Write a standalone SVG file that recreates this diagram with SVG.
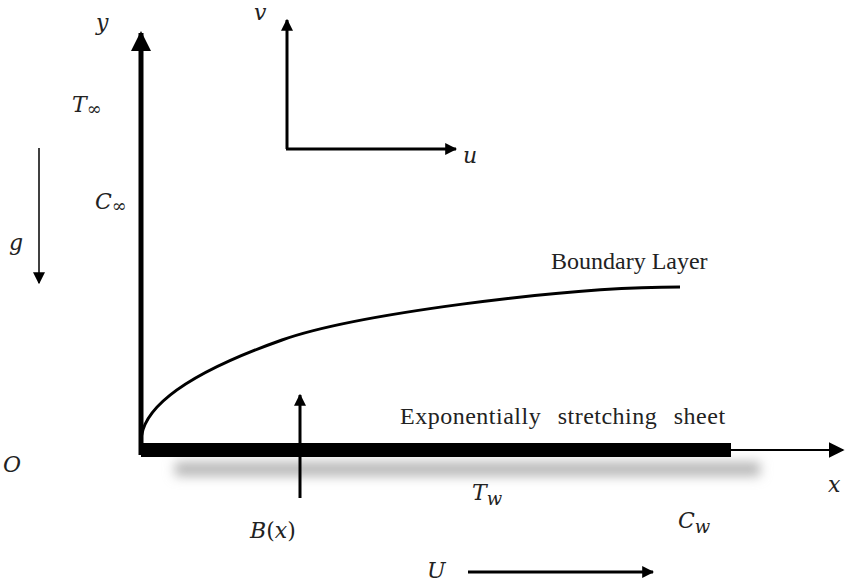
<svg xmlns="http://www.w3.org/2000/svg" width="845" height="583" viewBox="0 0 845 583">
<defs>
<marker id="ah" viewBox="0 0 10 10" refX="9" refY="5" markerWidth="4" markerHeight="4" orient="auto" markerUnits="strokeWidth"><path d="M0,0 L10,5 L0,10 z" fill="#000"/></marker>
<marker id="ahs" viewBox="0 0 10 10" refX="9" refY="5" markerWidth="8" markerHeight="8" orient="auto" markerUnits="strokeWidth"><path d="M0,0 L10,5 L0,10 z" fill="#000"/></marker>
<filter id="blur" x="-20%" y="-200%" width="140%" height="500%"><feGaussianBlur stdDeviation="6"/></filter>
</defs>
<style>
.m{font-family:"DejaVu Serif","Liberation Serif",serif;font-style:italic;font-size:22px;fill:#222}
.t{font-family:"Liberation Serif","Times New Roman",serif;font-size:24px;fill:#222}
.s{font-family:"DejaVu Serif",serif;font-size:18px;fill:#222}
.ax{stroke:#000;fill:none}
</style>
<g id="shadow"><rect x="175" y="462" width="585" height="14" fill="#b5b5b5" filter="url(#blur)"/></g>
<g id="connectors">
<line class="ax" x1="141" y1="455" x2="141" y2="33" stroke-width="5" marker-end="url(#ah)"/>
<line class="ax" x1="731" y1="450" x2="843" y2="450" stroke-width="2" marker-end="url(#ahs)"/>
<line class="ax" x1="39" y1="148" x2="39" y2="283" stroke-width="1.5" marker-end="url(#ahs)"/>
<line class="ax" x1="287" y1="149" x2="287" y2="20" stroke-width="3" marker-end="url(#ah)"/>
<line class="ax" x1="286" y1="149" x2="456" y2="149" stroke-width="3" marker-end="url(#ah)"/>
<line class="ax" x1="300" y1="498" x2="300" y2="395" stroke-width="3" marker-end="url(#ah)"/>
<line class="ax" x1="468" y1="572" x2="653" y2="572" stroke-width="3" marker-end="url(#ah)"/>
<path class="ax" d="M141,442 Q141,390 282,340 C352,315 560,287 680,287" stroke-width="3" stroke-linejoin="round"/>
</g>
<g id="sheet"><rect x="141" y="443" width="590" height="14" fill="#000"/>
<text class="t" x="400" y="424" word-spacing="10" letter-spacing="0.5">Exponentially stretching sheet</text></g>
<g id="boundary"><text class="t" x="551" y="269" font-size="25">Boundary Layer</text></g>
<g id="labels">
<text class="m" x="96" y="30">y</text>
<text class="m" x="72" y="112">T<tspan class="s" dy="3">∞</tspan></text>
<text class="m" x="95" y="209">C<tspan class="s" dy="3">∞</tspan></text>
<text class="m" x="9" y="250">g</text>
<text class="m" x="254" y="20">v</text>
<text class="m" x="463" y="163">u</text>
<text class="m" x="3" y="472">O</text>
<text class="m" x="828" y="492">x</text>
<text class="m" x="250" y="538">B<tspan font-style="normal">(</tspan>x<tspan font-style="normal">)</tspan></text>
<text class="m" x="472" y="500">T<tspan class="s" font-style="italic" dy="5" font-size="17">w</tspan></text>
<text class="m" x="678" y="528">C<tspan class="s" font-style="italic" dy="5" font-size="17">w</tspan></text>
<text class="m" x="427" y="578">U</text>
</g>
</svg>
